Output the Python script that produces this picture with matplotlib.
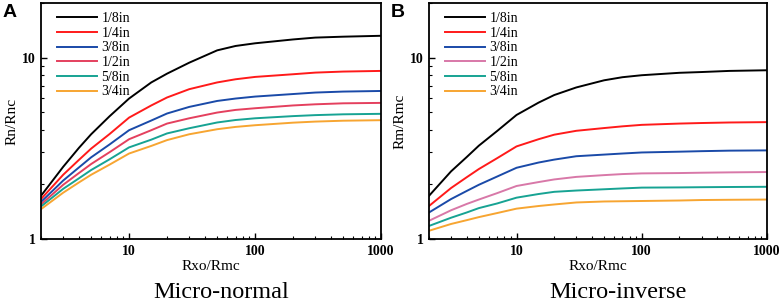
import matplotlib
matplotlib.use("Agg")
import matplotlib.pyplot as plt
from matplotlib.ticker import LogLocator, FixedLocator, NullFormatter

rxo = [2, 3, 4, 5, 7, 10, 15, 20, 30, 50, 70, 100, 200, 300, 500, 1000]

labels = ['1/8in', '1/4in', '3/8in', '1/2in', '5/8in', '3/4in']

# Panel A: Micro-normal
normal_18 = [1.73, 2.50, 3.18, 3.78, 4.75, 5.95, 7.30, 8.16, 9.38, 10.97, 11.6, 12.0, 12.6, 12.9, 13.05, 13.2]
normal_14 = [1.66, 2.26, 2.73, 3.15, 3.79, 4.67, 5.45, 6.03, 6.70, 7.30, 7.60, 7.83, 8.10, 8.27, 8.38, 8.45]
normal_38 = [1.60, 2.10, 2.48, 2.82, 3.32, 3.98, 4.50, 4.92, 5.35, 5.77, 5.95, 6.10, 6.30, 6.42, 6.50, 6.55]
normal_12 = [1.55, 1.99, 2.31, 2.59, 3.01, 3.55, 3.98, 4.33, 4.63, 4.98, 5.15, 5.26, 5.45, 5.53, 5.60, 5.63]
normal_58 = [1.51, 1.89, 2.16, 2.40, 2.75, 3.20, 3.53, 3.82, 4.08, 4.39, 4.53, 4.63, 4.76, 4.82, 4.87, 4.90]
normal_34 = [1.46, 1.80, 2.05, 2.26, 2.57, 2.96, 3.26, 3.51, 3.78, 4.03, 4.15, 4.24, 4.38, 4.44, 4.49, 4.52]

# Panel B: Micro-inverse
inverse_18 = [1.73, 2.36, 2.83, 3.27, 3.94, 4.83, 5.65, 6.22, 6.85, 7.50, 7.80, 8.00, 8.25, 8.33, 8.45, 8.52]
inverse_14 = [1.52, 1.91, 2.19, 2.43, 2.79, 3.24, 3.55, 3.76, 3.95, 4.09, 4.18, 4.26, 4.33, 4.36, 4.39, 4.41]
inverse_38 = [1.40, 1.66, 1.84, 1.99, 2.21, 2.47, 2.64, 2.74, 2.86, 2.92, 2.96, 3.00, 3.03, 3.05, 3.07, 3.08]
inverse_12 = [1.26, 1.44, 1.56, 1.65, 1.79, 1.96, 2.06, 2.13, 2.20, 2.25, 2.28, 2.30, 2.31, 2.32, 2.33, 2.34]
inverse_58 = [1.18, 1.31, 1.40, 1.48, 1.57, 1.69, 1.77, 1.82, 1.85, 1.88, 1.90, 1.92, 1.925, 1.93, 1.935, 1.94]
inverse_34 = [1.11, 1.21, 1.27, 1.32, 1.39, 1.47, 1.52, 1.55, 1.59, 1.61, 1.615, 1.62, 1.63, 1.64, 1.645, 1.65]

colors_a = ['#000000', '#ff1a1a', '#1a4aa8', '#e4405e', '#17a393', '#f7a531']
colors_b = ['#000000', '#ff1a1a', '#1a4aa8', '#d878a8', '#17a393', '#f7a531']

serif = 'Liberation Serif'


def draw_panel(ax, series, colors, ylabel, subtitle, sub_x, letter):
    for vals, lab, col in zip(series, labels, colors):
        ax.plot(rxo, vals, color=col, lw=1.4, label=lab)
    ax.set_xscale('log')
    ax.set_yscale('log')
    ax.set_xlim(2, 1000)
    ax.set_ylim(1, 20)
    ax.xaxis.set_major_locator(FixedLocator([10, 100, 1000]))
    ax.yaxis.set_major_locator(FixedLocator([1, 10]))
    ax.xaxis.set_minor_locator(LogLocator(base=10, subs=range(2, 10)))
    ax.yaxis.set_minor_locator(LogLocator(base=10, subs=range(2, 10)))
    ax.xaxis.set_minor_formatter(NullFormatter())
    ax.yaxis.set_minor_formatter(NullFormatter())
    ax.set_xticklabels(['10', '100', '1000'])
    ax.set_yticklabels(['1', '10'])
    ax.tick_params(which='major', direction='in', length=4, width=1, pad=4,
                   top=False, right=False)
    ax.tick_params(which='minor', direction='in', length=2, width=0.8,
                   top=False, right=False)
    for t in ax.get_xticklabels() + ax.get_yticklabels():
        t.set_fontfamily(serif)
        t.set_fontweight('bold')
        t.set_fontsize(10)
    for sp in ax.spines.values():
        sp.set_linewidth(1.3)
    ax.set_xlabel('Rxo/Rmc', fontfamily=serif, fontsize=11, labelpad=2)
    ax.set_ylabel(ylabel, fontfamily=serif, fontsize=11, labelpad=2)
    leg = ax.legend(loc='upper left', frameon=False, handlelength=2.9,
                    handletextpad=0.3, labelspacing=0.12,
                    borderaxespad=0.25, prop={'family': serif, 'size': 10})
    leg.set_bbox_to_anchor((0.02, 1.0))
    ax.text(sub_x, -0.228, subtitle, transform=ax.transAxes, ha='center',
            va='center', fontfamily=serif, fontsize=17.5)
    ax.text(-0.112, 0.995, letter, transform=ax.transAxes, ha='left',
            va='top', fontfamily='Liberation Sans', fontweight='bold',
            fontsize=14)


fig = plt.figure(figsize=(7.82, 3.06), dpi=100)
ax_a = fig.add_axes([0.0524, 0.219, 0.435, 0.771])
ax_b = fig.add_axes([0.5486, 0.219, 0.4322, 0.771])

draw_panel(ax_a, [normal_18, normal_14, normal_38, normal_12, normal_58, normal_34],
           colors_a, 'Rn/Rnc', 'Micro-normal', 0.53, 'A')
draw_panel(ax_b, [inverse_18, inverse_14, inverse_38, inverse_12, inverse_58, inverse_34],
           colors_b, 'Rm/Rmc', 'Micro-inverse', 0.56, 'B')

fig.savefig('out.png', dpi=100)
